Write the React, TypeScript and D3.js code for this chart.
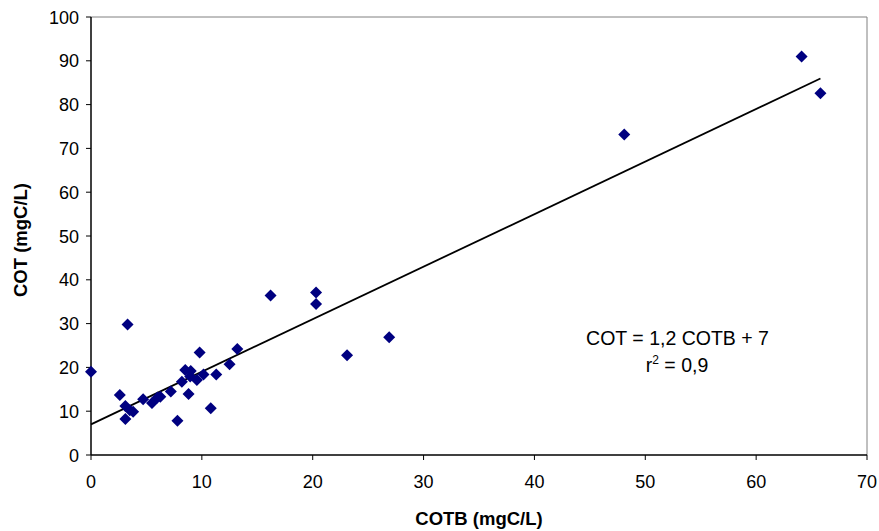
import React from "react";
import * as d3 from "d3";

const cotb: number[] = [0, 3.3, 2.6, 3.1, 3.1, 3.5, 3.8, 4.7, 5.5, 6.0, 6.25, 7.2, 7.8, 8.2, 8.5, 9.0, 8.8, 8.95, 9.55, 9.8, 10.15, 10.8, 11.3, 12.5, 13.2, 16.2, 20.3, 20.3, 23.1, 26.9, 48.1, 64.1, 65.8];
const cot: number[] = [19.0, 29.8, 13.7, 11.2, 8.2, 10.2, 9.9, 12.7, 11.9, 13.1, 13.3, 14.5, 7.8, 16.7, 19.4, 19.2, 13.9, 17.9, 17.1, 23.4, 18.4, 10.7, 18.4, 20.7, 24.2, 36.4, 37.1, 34.5, 22.8, 26.9, 73.2, 91.0, 82.6];
const xTicks: number[] = [0, 10, 20, 30, 40, 50, 60, 70];
const yTicks: number[] = [0, 10, 20, 30, 40, 50, 60, 70, 80, 90, 100];
const fitSlope = 1.2;
const fitIntercept = 7;
const fitRange: number[] = [0, 65.8];

export default function App() {
  const W = 879, H = 531;
  const left = 91, right = 867, top = 17, bottom = 455;
  const x = d3.scaleLinear().domain([0, 70]).range([left, right]);
  const y = d3.scaleLinear().domain([0, 100]).range([bottom, top]);
  const font = "Arial, 'Liberation Sans', sans-serif";
  const line = d3.line<number>().x((d) => x(d)).y((d) => y(fitSlope * d + fitIntercept));
  const r = 6;
  return (
    <svg width={W} height={H} style={{ position: "absolute", left: 0, top: 0, background: "#fff" }}>
      <line x1={left} x2={right} y1={top} y2={top} stroke="#808080" strokeWidth={1} />
      <line x1={right} x2={right} y1={top} y2={bottom} stroke="#808080" strokeWidth={1} />
      <line x1={left} x2={left} y1={top} y2={bottom} stroke="#000" strokeWidth={1.5} />
      <line x1={left} x2={right} y1={bottom} y2={bottom} stroke="#000" strokeWidth={1.5} />
      {yTicks.map((t) => (
        <g key={"y" + t}>
          <line x1={left - 5} x2={left} y1={y(t)} y2={y(t)} stroke="#000" />
          <text x={left - 12} y={y(t) + 6.5} textAnchor="end" fontFamily={font} fontSize={18} fill="#000">{t}</text>
        </g>
      ))}
      {xTicks.map((t) => (
        <g key={"x" + t}>
          <line x1={x(t)} x2={x(t)} y1={bottom} y2={bottom + 5} stroke="#000" />
          <text x={x(t)} y={bottom + 33} textAnchor="middle" fontFamily={font} fontSize={18} fill="#000">{t}</text>
        </g>
      ))}
      <path d={line(fitRange) || ""} stroke="#000" strokeWidth={1.8} fill="none" />
      {cotb.map((v, i) => {
        const cx = x(v), cy = y(cot[i]);
        return (
          <path key={i} d={`M${cx},${cy - r}L${cx + r},${cy}L${cx},${cy + r}L${cx - r},${cy}Z`} fill="#000080" />
        );
      })}
      <text x={677.5} y={345} textAnchor="middle" fontFamily={font} fontSize={19.5} fill="#000">COT = 1,2 COTB + 7</text>
      <text x={677} y={372} textAnchor="middle" fontFamily={font} fontSize={19.5} fill="#000">
        r<tspan dy={-8} fontSize={12}>2</tspan><tspan dy={8}> = 0,9</tspan>
      </text>
      <text x={479} y={525} textAnchor="middle" fontFamily={font} fontSize={18.5} fontWeight="bold" fill="#000">COTB (mgC/L)</text>
      <text transform={`translate(27,240) rotate(-90)`} textAnchor="middle" fontFamily={font} fontSize={18.5} fontWeight="bold" fill="#000">COT (mgC/L)</text>
    </svg>
  );
}
